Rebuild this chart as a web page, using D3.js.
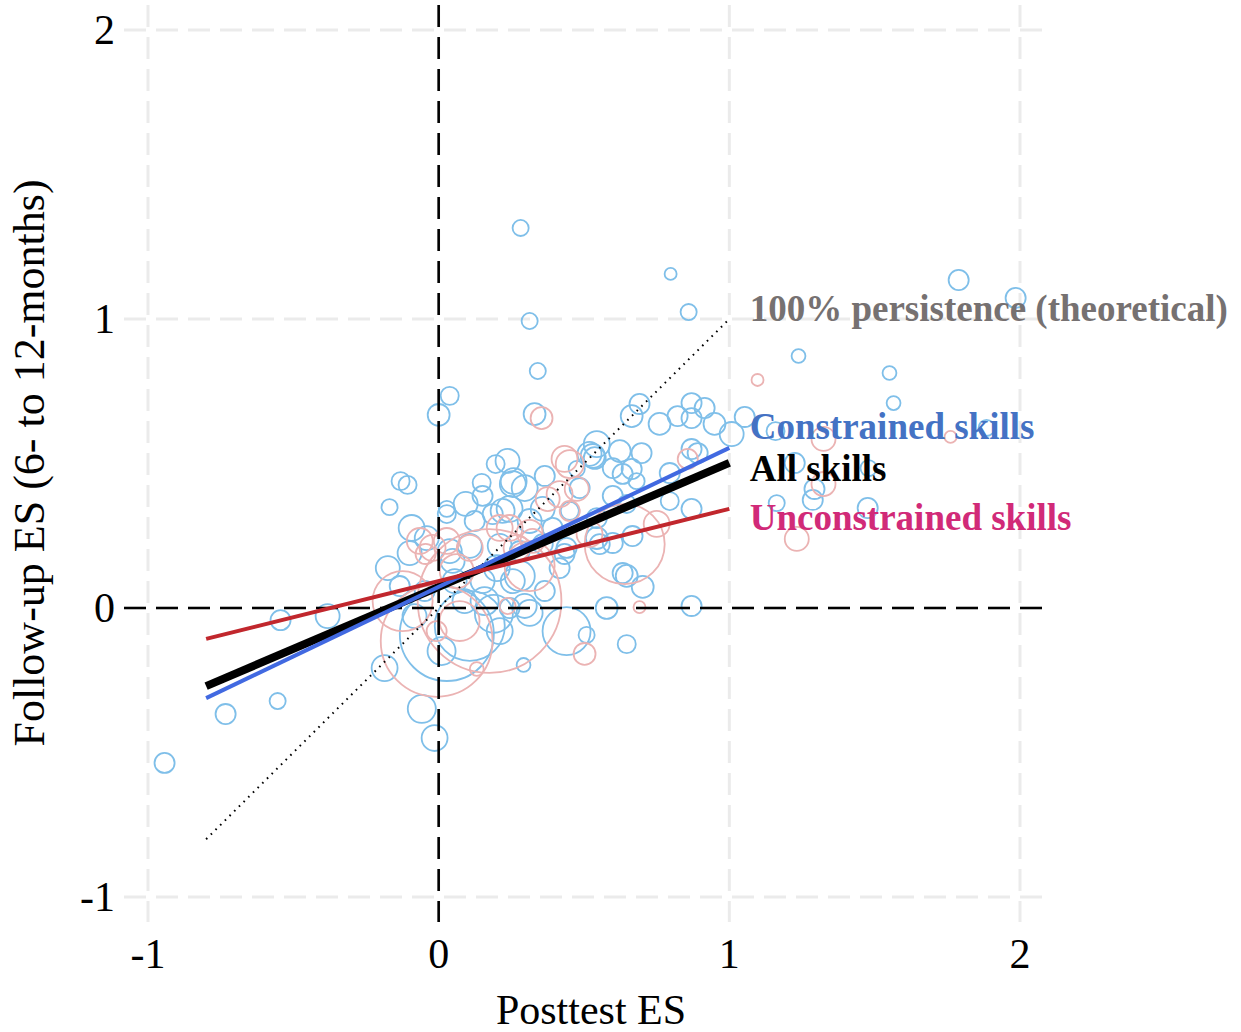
<!DOCTYPE html>
<html>
<head>
<meta charset="utf-8">
<script src="https://cdn.jsdelivr.net/npm/d3@7"></script>
<style>
  body { margin: 0; background: #fff; }
  svg { display: block; }
  text { font-family: "Liberation Serif", "Times New Roman", Times, serif; }
</style>
</head>
<body>
<svg id="chart" width="1241" height="1032"></svg>
<script>
// ---- data -------------------------------------------------------------
const xTicks = [-1, 0, 1, 2];
const yTicks = [-1, 0, 1, 2];
const xTickLabels = ["-1", "0", "1", "2"];
const yTickLabels = ["-1", "0", "1", "2"];

// [posttest ES, follow-up ES, sample size]
const constrainedES = [
  [-0.943, -0.536, 42], [-0.733, -0.367, 42], [-0.554, -0.322, 27], [-0.544, -0.042, 42],
  [-0.382, -0.028, 60], [-0.186, -0.208, 70], [-0.175, 0.138, 60], [-0.169, 0.349, 27],
  [-0.131, 0.439, 34], [-0.107, 0.426, 34], [-0.093, 0.277, 70], [-0.041, 0.242, 60],
  [-0.058, -0.349, 82], [-0.014, -0.450, 70], [0.000, 0.668, 50], [0.038, 0.734, 34],
  [0.282, 1.315, 27], [0.313, 0.993, 27], [0.341, 0.820, 27], [0.330, 0.671, 50],
  [0.196, 0.498, 34], [0.148, 0.433, 34], [0.258, 0.439, 70], [0.296, 0.415, 70],
  [0.093, 0.360, 60], [0.028, 0.325, 34], [0.244, 0.343, 70], [0.544, 0.567, 70],
  [0.530, 0.526, 60], [0.798, 1.156, 15], [0.860, 1.024, 27], [1.238, 0.872, 20],
  [1.551, 0.813, 20], [1.565, 0.709, 20], [1.789, 1.135, 42], [1.985, 1.073, 42],
  [1.053, 0.661, 42], [1.008, 0.602, 60], [1.159, 0.612, 34], [1.885, 0.623, 27],
  [1.225, 0.502, 42], [1.479, 0.484, 27], [1.293, 0.412, 42], [1.287, 0.374, 42],
  [1.163, 0.363, 27], [1.476, 0.346, 42], [0.870, 0.007, 42], [0.578, 0.000, 50],
  [0.647, 0.111, 50], [0.702, 0.073, 50], [0.647, -0.125, 34], [0.292, -0.197, 20],
  [0.296, 0.007, 60], [0.440, -0.080, 240], [0.509, -0.093, 27], [0.691, 0.706, 42],
  [0.760, 0.637, 50], [0.822, 0.664, 42], [0.870, 0.709, 42], [0.915, 0.692, 42],
  [0.870, 0.657, 42], [0.949, 0.637, 50], [0.664, 0.664, 50], [0.623, 0.543, 50],
  [0.698, 0.536, 42], [0.537, 0.519, 50], [0.664, 0.481, 42], [0.633, 0.464, 42],
  [0.681, 0.439, 27], [0.795, 0.467, 42], [0.870, 0.550, 42], [0.891, 0.536, 42],
  [0.475, 0.481, 27], [0.485, 0.415, 42], [0.599, 0.388, 42], [0.647, 0.360, 34],
  [0.795, 0.370, 34], [0.870, 0.343, 42], [0.544, 0.311, 42], [0.451, 0.336, 34],
  [0.544, 0.242, 50], [0.599, 0.225, 42], [0.667, 0.249, 42], [0.433, 0.187, 42],
  [0.255, 0.429, 70], [0.237, 0.509, 60], [0.358, 0.343, 60], [0.392, 0.277, 42],
  [0.358, 0.221, 42], [0.279, 0.197, 42], [0.440, 0.208, 42], [0.416, 0.138, 42],
  [0.554, 0.221, 42], [0.633, 0.121, 42], [0.519, 0.533, 60], [0.599, 0.484, 42],
  [0.028, 0.343, 27], [0.151, 0.388, 42], [0.220, 0.336, 60], [0.186, 0.325, 42],
  [0.038, 0.197, 60], [0.200, 0.138, 70], [0.255, 0.093, 60], [0.151, 0.093, 60],
  [0.010, -0.149, 82], [0.244, 0.000, 42], [0.028, -0.090, 920], [0.107, -0.062, 510],
  [0.210, -0.080, 70], [-0.083, -0.028, 60], [-0.048, 0.059, 42], [0.089, 0.024, 60],
  [0.313, -0.017, 70], [0.365, 0.059, 42], [0.279, 0.111, 94], [-0.134, 0.076, 42],
  [0.048, 0.163, 60], [0.107, 0.215, 60], [0.158, 0.024, 82], [0.055, 0.093, 60],
  [0.210, 0.215, 60], [0.313, 0.301, 60], [0.124, 0.301, 42], [0.365, 0.457, 42],
  [-0.100, 0.190, 60], [0.190, -0.020, 150]
];

const unconstrainedES = [
  [1.097, 0.789, 15], [1.324, 0.585, 60], [1.761, 0.592, 15], [1.324, 0.429, 60],
  [1.232, 0.239, 60], [0.354, 0.657, 50], [0.451, 0.498, 82], [0.475, 0.412, 60],
  [0.375, 0.377, 60], [0.451, 0.336, 42], [0.244, 0.277, 70], [0.313, 0.260, 70],
  [0.519, 0.256, 70], [0.640, 0.221, 666], [0.857, 0.516, 42], [0.691, 0.003, 15],
  [0.502, -0.159, 50], [0.237, 0.007, 27], [0.028, 0.232, 70], [-0.021, 0.208, 70],
  [0.107, 0.208, 70], [0.062, 0.128, 120], [-0.124, 0.024, 375], [-0.007, -0.080, 42],
  [0.131, -0.211, 20], [-0.007, -0.114, 1300], [0.175, 0.024, 2150], [0.416, 0.394, 70],
  [0.433, 0.516, 70], [-0.065, 0.232, 70], [0.210, 0.277, 70], [0.268, 0.208, 70],
  [0.323, 0.232, 60], [0.750, 0.291, 70], [0.313, 0.145, 260], [0.072, -0.045, 166],
  [-0.045, 0.187, 42]
];

// meta-regression fits: follow-up = intercept + slope * posttest
const fitNames = ["All skills", "Constrained skills", "Unconstrained skills"];
const fitIntercepts = [0.073, 0.073, 0.093];
const fitSlopes = [0.429, 0.481, 0.250];
const fitRange = [-0.8, 1.0];

// 100% persistence reference (follow-up = posttest)
const identityRange = [-0.8, 1.0];

// right-hand annotations
const annoLabels = ["100% persistence (theoretical)", "Constrained skills", "All skills", "Unconstrained skills"];
const annoX = [1.07, 1.07, 1.07, 1.07];
const annoY = [1.036, 0.628, 0.483, 0.313];

// ---- styles -----------------------------------------------------------
const fitStyle = {
  "All skills": { color: "#000000", width: 8 },
  "Constrained skills": { color: "#4169E1", width: 4 },
  "Unconstrained skills": { color: "#C1272D", width: 4 }
};
const annoColors = ["#767171", "#4472C4", "#000000", "#D12A78"];
const blueStroke = "#7fbfe9";
const pinkStroke = "#ebb3b3";

// ---- layout -----------------------------------------------------------
const svg = d3.select("#chart");
const panel = { left: 124, right: 1044, top: 5, bottom: 922 };

const x = d3.scaleLinear().domain([-1, 2]).range([148, 1020]);
const y = d3.scaleLinear().domain([-1, 2]).range([897, 30]);
const r = d3.scaleSqrt().domain([0, 1600]).range([0, 62]);

// grid
const grid = svg.append("g");
grid.selectAll("line.vg").data(xTicks).join("line")
  .attr("x1", d => x(d)).attr("x2", d => x(d))
  .attr("y1", panel.top).attr("y2", panel.bottom)
  .attr("stroke", "#ebebeb").attr("stroke-width", 3)
  .attr("stroke-dasharray", "22,10");
grid.selectAll("line.hg").data(yTicks).join("line")
  .attr("y1", d => y(d)).attr("y2", d => y(d))
  .attr("x1", panel.left).attr("x2", panel.right)
  .attr("stroke", "#ebebeb").attr("stroke-width", 3)
  .attr("stroke-dasharray", "22,10");

// study effect sizes
const pts = svg.append("g").attr("fill", "none").attr("stroke-width", 1.8);
pts.selectAll("circle.c").data(constrainedES).join("circle")
  .attr("cx", d => x(d[0])).attr("cy", d => y(d[1])).attr("r", d => r(d[2]))
  .attr("stroke", blueStroke);
pts.selectAll("circle.u").data(unconstrainedES).join("circle")
  .attr("cx", d => x(d[0])).attr("cy", d => y(d[1])).attr("r", d => r(d[2]))
  .attr("stroke", pinkStroke);

// zero reference lines
svg.append("line")
  .attr("x1", panel.left).attr("x2", panel.right)
  .attr("y1", y(0)).attr("y2", y(0))
  .attr("stroke", "#000").attr("stroke-width", 2.6).attr("stroke-dasharray", "22,10");
svg.append("line")
  .attr("x1", x(0)).attr("x2", x(0))
  .attr("y1", panel.top).attr("y2", panel.bottom)
  .attr("stroke", "#000").attr("stroke-width", 2.6).attr("stroke-dasharray", "22,10");

// identity line
const line = d3.line().x(d => x(d[0])).y(d => y(d[1]));
svg.append("path")
  .attr("d", line(identityRange.map(v => [v, v])))
  .attr("fill", "none").attr("stroke", "#000")
  .attr("stroke-width", 2).attr("stroke-dasharray", "1.6,5");

// fitted lines
fitNames.forEach((name, i) => {
  const pts2 = fitRange.map(v => [v, fitIntercepts[i] + fitSlopes[i] * v]);
  svg.append("path")
    .attr("d", line(pts2))
    .attr("fill", "none")
    .attr("stroke", fitStyle[name].color)
    .attr("stroke-width", fitStyle[name].width);
});

// annotations
svg.append("g").selectAll("text").data(annoLabels).join("text")
  .attr("x", (d, i) => x(annoX[i]))
  .attr("y", (d, i) => y(annoY[i]))
  .attr("dy", "0.34em")
  .attr("font-size", 37).attr("font-weight", "bold")
  .attr("fill", (d, i) => annoColors[i])
  .text(d => d);

// axes labels
svg.append("g").selectAll("text").data(xTicks).join("text")
  .attr("x", d => x(d)).attr("y", 968)
  .attr("text-anchor", "middle").attr("font-size", 42).attr("fill", "#000")
  .text((d, i) => xTickLabels[i]);
svg.append("g").selectAll("text").data(yTicks).join("text")
  .attr("x", 115).attr("y", d => y(d)).attr("dy", "0.34em")
  .attr("text-anchor", "end").attr("font-size", 42).attr("fill", "#000")
  .text((d, i) => yTickLabels[i]);

svg.append("text")
  .attr("x", 591).attr("y", 1024)
  .attr("text-anchor", "middle").attr("font-size", 42)
  .text("Posttest ES");
svg.append("text")
  .attr("transform", "translate(44,463) rotate(-90)")
  .attr("text-anchor", "middle").attr("font-size", 44)
  .text("Follow-up ES (6- to 12-months)");
</script>
</body>
</html>
